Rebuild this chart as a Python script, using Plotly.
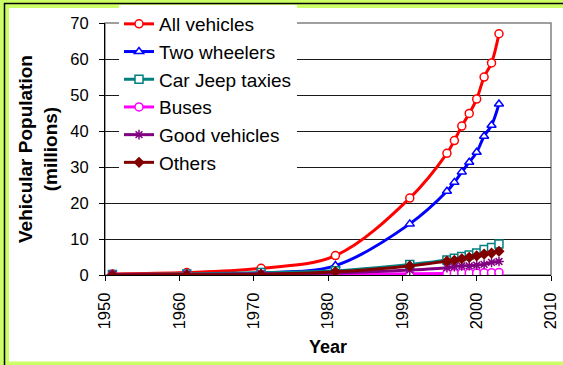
import plotly.graph_objects as go

# Vehicle population by category (millions)
years = [1951, 1961, 1971, 1981, 1991, 1996, 1997, 1998, 1999, 2000, 2001, 2002, 2003]
all_vehicles = [0.31, 0.67, 1.87, 5.39, 21.37, 33.79, 37.33, 41.37, 44.88, 48.86, 54.99, 58.92, 67.01]
two_wheelers = [0.03, 0.09, 0.58, 2.62, 14.20, 23.25, 25.73, 28.64, 31.33, 34.12, 38.56, 41.58, 47.52]
car_jeep_taxies = [0.16, 0.31, 0.68, 1.16, 2.95, 4.20, 4.67, 5.14, 5.56, 6.14, 7.06, 7.61, 8.60]
buses = [0.03, 0.06, 0.09, 0.16, 0.33, 0.45, 0.48, 0.54, 0.54, 0.56, 0.63, 0.64, 0.72]
goods_vehicles = [0.08, 0.17, 0.34, 0.55, 1.36, 2.03, 2.34, 2.54, 2.55, 2.72, 2.95, 3.49, 3.75]
others = [0.00, 0.04, 0.17, 0.90, 2.53, 3.85, 4.10, 4.51, 4.90, 5.32, 5.80, 6.10, 6.60]

series = [
    ("All vehicles", all_vehicles, "#FF0000", "circle", "#FFFFFF", 8),
    ("Two wheelers", two_wheelers, "#0000FF", "triangle-up", "#FFFFFF", 8),
    ("Car Jeep taxies", car_jeep_taxies, "#008080", "square", "#FFFFFF", 8),
    ("Buses", buses, "#FF00FF", "circle", "#FFFFFF", 8),
    ("Good vehicles", goods_vehicles, "#800080", "asterisk-open", "#800080", 8),
    ("Others", others, "#800000", "diamond", "#800000", 7),
]

fig = go.Figure()
for name, vals, color, symbol, fill, size in series:
    fig.add_trace(go.Scatter(
        x=years, y=vals, name=name, mode="lines+markers",
        line=dict(color=color, width=3, shape="spline", smoothing=1),
        marker=dict(symbol=symbol, size=size, color=fill,
                    line=dict(color=color, width=1.5)),
    ))

W, H = 563, 365
L, R, T, B = 105, 551, 23, 275
pw, ph = R - L, B - T


def px(x):
    return (x - L) / pw


def py(y):
    return (B - y) / ph


shapes = [
    # framed white panel on the green page
    dict(type="rect", xref="paper", yref="paper", layer="below",
         x0=px(4.5), x1=px(700), y0=py(3.5), y1=py(600),
         fillcolor="#CCFF66", line=dict(color="#000000", width=1.5)),
    dict(type="rect", xref="paper", yref="paper", layer="below",
         x0=px(9), x1=px(700), y0=py(8), y1=py(361.5),
         fillcolor="#FFFFFF", line=dict(width=0)),
    # plot area border
    dict(type="rect", xref="paper", yref="paper", layer="below",
         x0=0, x1=1, y0=0, y1=1,
         line=dict(color="#808080", width=1.5)),
]

annotations = [
    dict(text="<b>Vehicular Population<br>(millions)</b>", textangle=-90,
         xref="paper", yref="paper", x=px(38), y=py(149),
         xanchor="center", yanchor="middle", showarrow=False,
         font=dict(family="Liberation Sans, Arial", size=19, color="#000")),
    dict(text="<b>Year</b>", xref="paper", yref="paper",
         x=px(328), y=py(347), xanchor="center", yanchor="middle",
         showarrow=False,
         font=dict(family="Liberation Sans, Arial", size=18, color="#000")),
]

fig.update_layout(
    width=W, height=H,
    margin=dict(l=L, r=W - R, t=T, b=H - B, autoexpand=False),
    paper_bgcolor="#CCFF66",
    plot_bgcolor="rgba(0,0,0,0)",
    font=dict(family="Liberation Sans, Arial", size=16, color="#000"),
    shapes=shapes,
    annotations=annotations,
    showlegend=True,
    legend=dict(
        x=px(119), y=py(5), xanchor="left", yanchor="top",
        bgcolor="#FFFFFF", borderwidth=0,
        font=dict(family="Liberation Sans, Arial", size=19, color="#000"),
        itemwidth=30,
    ),
    xaxis=dict(
        range=[1950, 2010], tick0=1950, dtick=10, showgrid=False,
        ticks="outside", ticklen=5, tickcolor="#000", tickwidth=1,
        tickangle=-90, showline=True, linecolor="#000", linewidth=1,
        zeroline=False, tickfont=dict(size=16.5), ticklabelstandoff=5,
    ),
    yaxis=dict(
        range=[0, 70], tick0=0, dtick=10, showgrid=True,
        gridcolor="#1a1a1a", gridwidth=1,
        ticks="outside", ticklen=5, tickcolor="#000", tickwidth=1,
        showline=True, linecolor="#000", linewidth=1,
        zeroline=False, tickfont=dict(size=16.5), ticklabelstandoff=7,
    ),
)

fig.write_html("out.html")
